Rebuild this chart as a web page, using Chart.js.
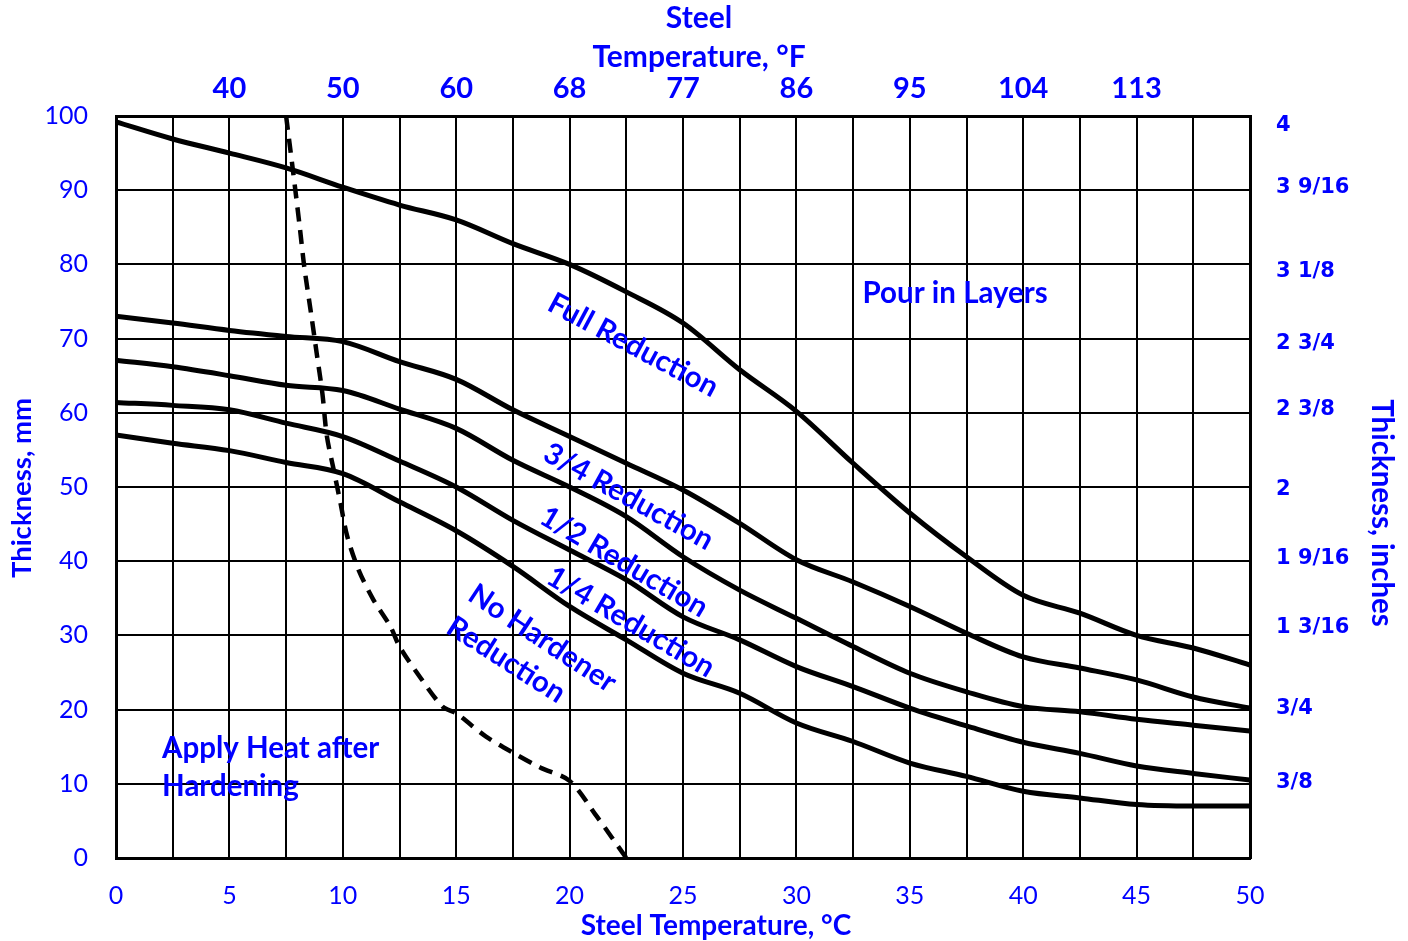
<!DOCTYPE html>
<html>
<head>
<meta charset="utf-8">
<script src="https://cdn.jsdelivr.net/npm/chart.js@4.4.0/dist/chart.umd.min.js"></script>
<style>
  html, body { margin: 0; padding: 0; background: #fff; }
  .chart-container { position: relative; width: 1408px; height: 941px; }
</style>
</head>
<body>
<div class="chart-container"><canvas id="myChart"></canvas></div>
<script>
// steel temperature, °C (every 2.5 degrees)
const tempC = [0, 2.5, 5, 7.5, 10, 12.5, 15, 17.5, 20, 22.5, 25, 27.5, 30, 32.5, 35, 37.5, 40, 42.5, 45, 47.5, 50];

// thickness, mm
const fullReduction = [99.2, 96.9, 95.0, 93.0, 90.4, 88.0, 86.0, 82.8, 80.0, 76.3, 72.1, 65.8, 60.2, 53.2, 46.5, 40.6, 35.4, 33.0, 30.0, 28.3, 26.0];
const threeQuarterReduction = [73.0, 72.1, 71.1, 70.3, 69.6, 66.9, 64.5, 60.4, 56.8, 53.2, 49.6, 45.1, 40.2, 37.2, 33.9, 30.3, 27.1, 25.6, 24.0, 21.7, 20.2];
const halfReduction = [67.1, 66.2, 65.0, 63.7, 63.0, 60.5, 57.9, 53.6, 50.0, 46.0, 40.6, 36.1, 32.3, 28.5, 24.9, 22.4, 20.4, 19.7, 18.7, 17.9, 17.1];
const quarterReduction = [61.4, 61.0, 60.4, 58.6, 56.8, 53.5, 50.0, 45.5, 41.5, 37.5, 32.5, 29.4, 25.8, 23.1, 20.2, 17.8, 15.6, 14.1, 12.4, 11.4, 10.5];
const noHardener = [57.0, 55.9, 54.9, 53.3, 51.8, 48.0, 44.1, 39.3, 33.9, 29.4, 24.9, 22.2, 18.2, 15.7, 12.8, 11.0, 9.0, 8.1, 7.2, 7.0, 7.0];

// "apply heat after hardening" limit (dashed)
const heatTempC = [7.5, 7.8, 8.1, 8.3, 8.6, 8.85, 9.1, 9.3, 9.6, 9.9, 10.2, 10.7, 11.35, 12.1, 12.5, 13.4, 14.4, 15, 16.3, 17.5, 18.7, 20, 21.2, 22.5];
const heatThickness = [100, 92.7, 85.1, 79.7, 73.4, 68, 62.6, 56.8, 52.3, 47.8, 43.3, 38.8, 34.8, 31.2, 28.5, 24.4, 20.4, 19.5, 16.4, 14.2, 12.2, 10.4, 5.6, 0];

// secondary axes
const fahrenheitLabels = ["40", "50", "60", "68", "77", "86", "95", "104", "113"];
const fahrenheitAtC = [5, 10, 15, 20, 25, 30, 35, 40, 45];
const inchLabels = ["4", "3 9/16", "3 1/8", "2 3/4", "2 3/8", "2", "1 9/16", "1 3/16", "3/4", "3/8"];
const inchAtMm = [98.7, 90.3, 79.0, 69.4, 60.4, 49.6, 40.4, 31.0, 20.2, 10.2];

const BLUE = "#0000ff";
Chart.defaults.font.family = "Lato";

const toPoints = (xs, ys) => xs.map((x, i) => ({ x: x, y: ys[i] }));

const solidLine = (label, values) => ({
  label: label,
  data: toPoints(tempC, values),
  borderColor: "#000",
  borderWidth: 5,
  pointRadius: 0,
  cubicInterpolationMode: "monotone",
});

const notes = [
  { text: "Pour in Layers", x: 37.0, y: 76.1, angle: 0 },
  { text: "Full Reduction", x: 22.8, y: 69.1, angle: 28 },
  { text: "3/4 Reduction", x: 22.6, y: 48.7, angle: 29 },
  { text: "1/2 Reduction", x: 22.4, y: 39.9, angle: 30.5 },
  { text: "1/4 Reduction", x: 22.7, y: 31.8, angle: 30.5 },
  { text: "No Hardener", x: 18.8, y: 29.6, angle: 33.5 },
  { text: "Reduction", x: 17.2, y: 26.7, angle: 32.5 },
  { text: "Apply Heat after", x: 2.03, y: 14.8, angle: 0, align: "left" },
  { text: "Hardening", x: 2.03, y: 9.6, angle: 0, align: "left" },
];

const drawTitle = (ctx, text, x, y, size, rotation) => {
  ctx.save();
  ctx.font = `bold ${size}px Lato`;
  ctx.translate(x, y);
  ctx.rotate(rotation || 0);
  ctx.fillText(text, 0, 0);
  ctx.restore();
};

const textPlugin = {
  id: "chartText",
  afterDraw(chart) {
    const ctx = chart.ctx;
    const xs = chart.scales.x, ys = chart.scales.y;
    ctx.save();
    ctx.fillStyle = BLUE;
    ctx.textBaseline = "middle";
    ctx.font = "bold 29.5px Lato";

    notes.forEach((n) => {
      ctx.save();
      ctx.translate(xs.getPixelForValue(n.x), ys.getPixelForValue(n.y));
      ctx.rotate((n.angle * Math.PI) / 180);
      ctx.textAlign = n.align || "center";
      ctx.fillText(n.text, 0, 0);
      ctx.restore();
    });

    // axis titles
    ctx.textAlign = "center";
    drawTitle(ctx, "Steel", 699, 18, 30);
    drawTitle(ctx, "Temperature, °F", 699, 57, 30);
    drawTitle(ctx, "Steel Temperature, °C", 716, 926, 28);
    drawTitle(ctx, "Thickness, mm", 22, 488, 27.5, -Math.PI / 2);
    drawTitle(ctx, "Thickness, inches", 1382, 513, 29.5, Math.PI / 2);

    ctx.restore();
  },
};

const config = {
  type: "line",
  data: {
    datasets: [
      solidLine("Full Reduction", fullReduction),
      solidLine("3/4 Reduction", threeQuarterReduction),
      solidLine("1/2 Reduction", halfReduction),
      solidLine("1/4 Reduction", quarterReduction),
      solidLine("No Hardener Reduction", noHardener),
      {
        label: "Apply Heat after Hardening",
        data: toPoints(heatTempC, heatThickness),
        borderColor: "#000",
        borderWidth: 4.5,
        borderDash: [14, 9],
        pointRadius: 0,
        tension: 0.3,
      },
    ],
  },
  options: {
    responsive: true,
    maintainAspectRatio: false,
    animation: false,
    layout: { padding: 0 },
    plugins: {
      legend: { display: false },
      tooltip: { enabled: false },
    },
    scales: {
      x: {
        type: "linear",
        position: "bottom",
        min: 0,
        max: 50,
        afterFit: (scale) => { scale.height = 83; },
        ticks: {
          stepSize: 2.5,
          autoSkip: false,
          maxRotation: 0,
          padding: 23,
          color: BLUE,
          font: { size: 25 },
          callback: (v) => (v % 5 === 0 ? v : ""),
        },
        grid: { color: "#000", lineWidth: 2, drawTicks: false },
        border: { color: "#000", width: 3 },
      },
      x2: {
        type: "linear",
        position: "top",
        min: 0,
        max: 50,
        afterFit: (scale) => { scale.height = 116; },
        afterBuildTicks: (axis) => {
          axis.ticks = fahrenheitAtC.map((v) => ({ value: v }));
        },
        ticks: {
          autoSkip: false,
          maxRotation: 0,
          padding: 10,
          color: BLUE,
          font: { size: 29, weight: "bold" },
          callback: (v, i) => fahrenheitLabels[i],
        },
        grid: { display: false, drawTicks: false },
        border: { color: "#000", width: 3 },
      },
      y: {
        type: "linear",
        position: "left",
        min: 0,
        max: 100,
        afterFit: (scale) => { scale.width = 116; },
        ticks: {
          stepSize: 10,
          padding: 28,
          color: BLUE,
          font: { size: 25 },
        },
        grid: { color: "#000", lineWidth: 2, drawTicks: false },
        border: { color: "#000", width: 3 },
      },
      y2: {
        type: "linear",
        position: "right",
        min: 0,
        max: 100,
        afterFit: (scale) => { scale.width = 158; },
        afterBuildTicks: (axis) => {
          axis.ticks = inchAtMm.map((v) => ({ value: v }));
        },
        ticks: {
          autoSkip: false,
          padding: 26,
          color: BLUE,
          font: { family: "DejaVu Sans", size: 21, weight: "bold" },
          callback: (v, i) => inchLabels[i],
        },
        grid: { display: false, drawTicks: false },
        border: { color: "#000", width: 3 },
      },
    },
  },
  plugins: [textPlugin],
};

const myChart = new Chart(document.getElementById("myChart"), config);
</script>
</body>
</html>
